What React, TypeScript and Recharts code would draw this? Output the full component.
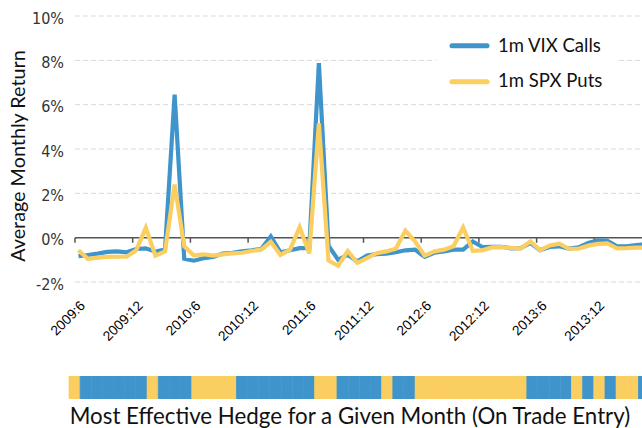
import React from 'react';
import { LineChart, Line, XAxis, YAxis, CartesianGrid, ReferenceLine, BarChart, Bar, Cell } from 'recharts';

const months = [
  '2009:6', '2009:7', '2009:8', '2009:9', '2009:10', '2009:11', '2009:12',
  '2010:1', '2010:2', '2010:3', '2010:4', '2010:5', '2010:6', '2010:7', '2010:8', '2010:9', '2010:10', '2010:11', '2010:12',
  '2011:1', '2011:2', '2011:3', '2011:4', '2011:5', '2011:6', '2011:7', '2011:8', '2011:9', '2011:10', '2011:11', '2011:12',
  '2012:1', '2012:2', '2012:3', '2012:4', '2012:5', '2012:6', '2012:7', '2012:8', '2012:9', '2012:10', '2012:11', '2012:12',
  '2013:1', '2013:2', '2013:3', '2013:4', '2013:5', '2013:6', '2013:7', '2013:8', '2013:9', '2013:10', '2013:11', '2013:12',
  '2014:1', '2014:2', '2014:3', '2014:4', '2014:5',
];

// 1m VIX Calls, average monthly return (%)
const vixCalls = [
  -0.84, -0.78, -0.72, -0.64, -0.62, -0.66, -0.51, -0.48, -0.63, -0.54,
  6.45, -0.95, -1.04, -0.93, -0.87, -0.72, -0.68, -0.62, -0.57, -0.51,
  0.05, -0.66, -0.57, -0.47, -0.47, 7.88, -0.36, -1.0, -0.77, -1.07,
  -0.81, -0.74, -0.72, -0.66, -0.57, -0.54, -0.87, -0.68, -0.62, -0.54,
  -0.54, -0.17, -0.42, -0.41, -0.41, -0.48, -0.47, -0.24, -0.56, -0.42,
  -0.39, -0.49, -0.44, -0.24, -0.12, -0.14, -0.39, -0.39, -0.33, -0.30,
];

// 1m SPX Puts, average monthly return (%)
const spxPuts = [
  -0.57, -0.96, -0.90, -0.87, -0.86, -0.86, -0.57, 0.44, -0.81, -0.62,
  2.40, -0.39, -0.81, -0.75, -0.81, -0.75, -0.71, -0.68, -0.60, -0.54,
  -0.19, -0.78, -0.54, 0.47, -0.72, 5.15, -1.03, -1.27, -0.60, -1.14,
  -0.92, -0.70, -0.62, -0.50, 0.32, -0.17, -0.81, -0.62, -0.54, -0.39,
  0.46, -0.59, -0.57, -0.44, -0.43, -0.46, -0.49, -0.17, -0.57, -0.35,
  -0.27, -0.50, -0.50, -0.36, -0.28, -0.26, -0.48, -0.47, -0.45, -0.45,
];

// Most effective hedge for each month (on trade entry)
const bestHedge = [
  'SPX', 'VIX', 'VIX', 'VIX', 'VIX', 'VIX', 'VIX', 'SPX', 'VIX', 'VIX',
  'VIX', 'SPX', 'SPX', 'SPX', 'SPX', 'VIX', 'VIX', 'VIX', 'VIX', 'VIX',
  'VIX', 'VIX', 'SPX', 'SPX', 'VIX', 'VIX', 'VIX', 'VIX', 'SPX', 'VIX',
  'VIX', 'SPX', 'SPX', 'SPX', 'SPX', 'SPX', 'SPX', 'SPX', 'SPX', 'SPX',
  'SPX', 'VIX', 'VIX', 'VIX', 'VIX', 'SPX', 'VIX', 'SPX', 'VIX', 'SPX',
  'SPX', 'VIX', 'VIX', 'VIX', 'VIX', 'VIX', 'VIX', 'VIX', 'VIX', 'VIX',
];

const tickMonths = ['2009:6', '2009:12', '2010:6', '2010:12', '2011:6', '2011:12', '2012:6', '2012:12', '2013:6', '2013:12'];
const yTicks = [-2, 0, 2, 4, 6, 8, 10];

const BLUE = '#3F95CB';
const YELLOW = '#FACE60';
const ENTRY_OFFSET = 0.36; // trades are entered partway into each month

const lineData = months.map((m, i) => ({ t: i + ENTRY_OFFSET, month: m, vix: vixCalls[i], spx: spxPuts[i] }));
const stripData = months.map((m, i) => ({ month: m, hedge: bestHedge[i], v: 1 }));
const tickValues = tickMonths.map((m) => months.indexOf(m));

const XTick = (props: any) => {
  const { x, y, payload } = props;
  const ax = x + 11;
  const ay = y + 24.5;
  return (
    <text x={ax} y={ay} transform={`rotate(-45 ${ax} ${ay})`} textAnchor="end"
      fontSize={13.8} fontFamily="'Liberation Sans', Arial, sans-serif" fill="#000">
      {months[payload.value]}
    </text>
  );
};

const YTick = (props: any) => {
  const { x, y, payload } = props;
  return (
    <text x={x} y={y} dy={7.6} textAnchor="end" fontSize={16}
      fontFamily="'Liberation Sans Narrow', 'DejaVu Sans Condensed', sans-serif" fill="#333">
      {payload.value}%
    </text>
  );
};

export default function App() {
  return (
    <div style={{ position: 'absolute', left: 0, top: 0, width: 642, height: 428, overflow: 'hidden', background: '#fff' }}>
      <div style={{ position: 'absolute', left: 0, top: 0 }}>
        <LineChart width={652} height={360} data={lineData} margin={{ top: 16, right: 0, bottom: 18, left: 0 }}>
          <CartesianGrid vertical={false} stroke="#d9d9d9" strokeDasharray="5 3" />
          <XAxis dataKey="t" type="number" domain={[0, 60]} ticks={tickValues} interval={0}
            axisLine={false} tickLine={false} tickSize={0} tickMargin={0} height={60} tick={<XTick />} allowDataOverflow />
          <YAxis domain={[-2, 10]} ticks={yTicks} axisLine={false} tickLine={false} tickSize={0} tickMargin={11}
            width={75} tick={<YTick />} />
          <ReferenceLine y={0} stroke="#555" strokeWidth={1.5} />
          {tickValues.map((tv) => (
            <ReferenceLine key={tv} segment={[{ x: tv, y: 0 }, { x: tv, y: -0.23 }]} stroke="#555" strokeWidth={1.5} />
          ))}
          <Line type="linear" dataKey="vix" stroke={BLUE} strokeWidth={4.2} dot={false} isAnimationActive={false} />
          <Line type="linear" dataKey="spx" stroke={YELLOW} strokeWidth={4.2} dot={false} isAnimationActive={false} />
        </LineChart>
      </div>
      <div style={{ position: 'absolute', left: 0, top: 376 }}>
        <BarChart width={740} height={23} data={stripData} margin={{ top: 0, right: 1, bottom: 0, left: 69 }}
          barCategoryGap={0}>
          <XAxis dataKey="month" hide />
          <YAxis domain={[0, 1]} width={0} tick={false} tickLine={false} axisLine={{ stroke: '#999', strokeWidth: 1.5 }} />
          <Bar dataKey="v" isAnimationActive={false}>
            {stripData.map((d, i) => {
              const c = d.hedge === 'VIX' ? BLUE : YELLOW;
              return <Cell key={i} fill={c} stroke={c} strokeWidth={0.8} />;
            })}
          </Bar>
        </BarChart>
      </div>
      <svg width={642} height={428} style={{ position: 'absolute', left: 0, top: 0, pointerEvents: 'none' }}>
        <text transform="translate(24.5 156) rotate(-90)" textAnchor="middle" fontSize={19.8}
          fontFamily="Lato, sans-serif" fill="#111">Average Monthly Return</text>
        <text x={350} y={423.5} textAnchor="middle" fontSize={22.3} fontFamily="Lato, sans-serif" fill="#111">
          Most Effective Hedge for a Given Month (On Trade Entry)
        </text>
        <rect x={436} y={23} width={180} height={78} fill="#fff" />
        <line x1={452} x2={487} y1={45.7} y2={45.7} stroke={BLUE} strokeWidth={5} strokeLinecap="round" />
        <text x={498} y={52.3} fontSize={18.5} fontFamily="Lato, sans-serif" fill="#111">1m VIX Calls</text>
        <line x1={452} x2={487} y1={81.7} y2={81.7} stroke={YELLOW} strokeWidth={5} strokeLinecap="round" />
        <text x={498} y={87.3} fontSize={18.5} fontFamily="Lato, sans-serif" fill="#111">1m SPX Puts</text>
      </svg>
    </div>
  );
}
